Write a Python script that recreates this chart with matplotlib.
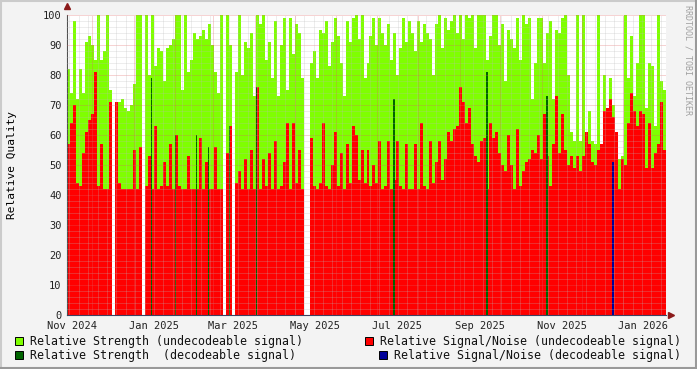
import numpy as np
import matplotlib.pyplot as plt
from matplotlib.patches import Rectangle

nan = np.nan

# one column per ~2.23 days, starting mid-Nov 2024
start = np.datetime64("2024-11-12T04:00")
step_h = 53.6

strength_undec = [
    82, 74, 98, 72, 82, 74, 91, 93, 90, 85, 100, 85, 88, 100, 75, nan, 68, 71, 72, 69,
    68, 70, 77, 100, 100, nan, 100, 80, 100, 83, 89, 88,
    78, 89, 90, 92, 100, 100, 75, 100, 81, 85, 94, 92, 93, 95, 92, 97, 90, 81, 74, 100,
    nan, 100, 90, nan, 81, 100, 80, 91, 89, 94, 73, 100, 97, 100,
    85, 91, 79, 98, 73, 90, 99, 75, 99, 87, 97, 94, 79, nan, nan, 84, 88, 79, 95, 94,
    98, 83, 91, 99, 93, 84, 73, 98, 91, 99, 100, 92, 100,
    79, 84, 93, 99, 90, 99, 94, 90, 97, 85, 94, 80, 89, 99, 91, 98, 94, 88, 98, 91,
    97, 94, 92, 80, 97, 100, 89, 99, 95, 98, 100, 94, 100,
    92, 100, 99, 100, 89, 100, 100, 100, 85, 93, 100, 100, 90, 97, 78, 95, 92, 89, 99, 85,
    100, 97, 99, 72, 84, 99, 99, 84, 94, 98, 72, 95, 94, 99,
    100, 80, 61, 58, 100, 58, 100, 60, 68, 58, 57, 100, 54, 80, 65, 79, 70, 61, 52, 53,
    100, 79, 93, 73, 84, 100, 100, 69, 84, 83, 63, 100, 78, 75,
]

snr_undec = [
    57, 64, 70, 44, 43, 54, 61, 65, 67, 81, 43, 57, 42, 42, 71, nan, 71, 44, 42, 42,
    42, 42, 55, 42, 56, nan, 43, 53, 42, 63, 42, 43,
    51, 43, 57, 42, 60, 43, 42, 42, 53, 42, 42, 42, 59, 42, 51, 42, 42, 56, 42, 42,
    nan, 54, 63, nan, 44, 48, 42, 52, 42, 55, 42, 76, 42, 52,
    43, 54, 42, 58, 42, 43, 51, 64, 42, 64, 44, 55, 42, nan, nan, 59, 43, 42, 44, 64,
    43, 42, 50, 61, 43, 54, 42, 57, 44, 63, 60, 45, 55,
    44, 55, 43, 50, 44, 58, 42, 43, 58, 42, 45, 58, 43, 42, 57, 42, 42, 57, 42, 64,
    43, 42, 58, 44, 51, 58, 45, 52, 61, 58, 62, 63, 76,
    71, 64, 69, 57, 53, 51, 58, 59, 42, 64, 59, 61, 54, 50, 48, 60, 50, 42, 62, 43,
    48, 51, 52, 55, 54, 60, 52, 67, 53, 43, 57, 73, 54, 67,
    55, 50, 53, 49, 53, 48, 53, 61, 57, 51, 50, 55, 57, 68, 69, 72, 66, 61, 42, 52,
    50, 64, 74, 68, 63, 68, 67, 49, 64, 49, 54, 57, 71, 55,
]

# sparse decodeable samples (column index, value)
strength_dec_idx = [28, 36, 43, 47, 54, 63, 109, 140, 160]
strength_dec = [79, 60, 60, 56, 63, 76, 72, 81, 73]
snr_dec_idx = [182]
snr_dec = [51]

y_ticks = list(range(0, 101, 10))
x_labels = ["Nov 2024", "Jan 2025", "Mar 2025", "May 2025",
            "Jul 2025", "Sep 2025", "Nov 2025", "Jan 2026"]
x_label_dates = ["2024-11-16", "2025-01-16", "2025-03-16", "2025-05-16",
                 "2025-07-16", "2025-09-16", "2025-11-16", "2026-01-16"]

n = len(strength_undec)
t = start + (np.arange(n) * step_h * 60).astype("timedelta64[m]")
w = step_h / 24.0

W, H = 697, 369
fig = plt.figure(figsize=(W / 100, H / 100), dpi=100, facecolor="#F3F3F3")
ax = fig.add_axes([67 / W, 54 / H, 599 / W, 300 / H])
ax.set_facecolor("white")

mono = "DejaVu Sans Mono"

ax.bar(t, strength_undec, width=w, align="edge", color="#7FFF00", linewidth=0, zorder=1)
ax.bar(t, snr_undec, width=w, align="edge", color="#FF0000", linewidth=0, zorder=2)
ax.bar(t[strength_dec_idx], strength_dec, width=w * 0.45, align="edge",
       color="#006400", linewidth=0, zorder=2.5)
ax.bar(t[snr_dec_idx], snr_dec, width=w * 0.6, align="edge",
       color="#000099", linewidth=0, zorder=2.6)

t0 = start
t1 = start + np.timedelta64(int(n * step_h * 60), "m")
ax.set_xlim(t0, t1)
ax.set_ylim(0, 100)

# grid (drawn over the data, like rrdtool)
dots = (0, (1, 1))
for v in range(2, 100, 2):
    if v % 10:
        ax.axhline(v, color="#BBBBBB", alpha=0.5, lw=0.72, ls=dots, zorder=3)
for v in range(10, 101, 10):
    ax.axhline(v, color="#E06060", alpha=0.55, lw=0.72, ls=dots, zorder=3)
months = np.arange(np.datetime64("2024-12"), np.datetime64("2026-02"), dtype="datetime64[M]")
weeks = np.arange(np.datetime64("2024-11-14"), t1, np.timedelta64(7, "D"))
for d in weeks:
    ax.axvline(d, color="#BBBBBB", alpha=0.5, lw=0.72, ls=dots, zorder=3)
for d in months:
    ax.axvline(d.astype("datetime64[D]"), color="#E06060", alpha=0.55, lw=0.72, ls=dots, zorder=3)

for s in ["top", "right"]:
    ax.spines[s].set_visible(False)
ax.spines["left"].set_color("#505050")
ax.spines["bottom"].set_color("#404060")
ax.spines["left"].set_linewidth(0.8)
ax.spines["bottom"].set_linewidth(0.8)

ax.set_yticks(y_ticks)
ax.set_yticklabels([str(v) for v in y_ticks], fontsize=7.5, family=mono)
ax.set_xticks(np.array(x_label_dates, dtype="datetime64[D]"))
ax.set_xticklabels(x_labels, fontsize=7.5, family=mono)
ax.tick_params(length=0, pad=4, colors="#222222")
ax.set_ylabel("Relative Quality", fontsize=8, family=mono)
ax.yaxis.set_label_coords(-50 / 599, 0.5)

# axis arrows
ax.plot([0], [1.03], marker="^", ms=4, color="#8B1A1A", transform=ax.transAxes, clip_on=False)
ax.plot([1.008], [0], marker=">", ms=4, color="#8B1A1A", transform=ax.transAxes, clip_on=False)

fig.text(688 / W, 1 - 5 / H, "RRDTOOL / TOBI OETIKER", rotation=-90, fontsize=6,
         family=mono, color="#A0A0A0", ha="center", va="top")

legend = [
    (15, 341, "#7FFF00", "Relative Strength (undecodeable signal)"),
    (365, 341, "#FF0000", "Relative Signal/Noise (undecodeable signal)"),
    (15, 355, "#006400", "Relative Strength  (decodeable signal)"),
    (379, 355, "#000099", "Relative Signal/Noise (decodeable signal)"),
]
for x, y, c, label in legend:
    fig.patches.append(Rectangle((x / W, 1 - (y + 4) / H), 8 / W, 8 / H, facecolor=c,
                                 edgecolor="black", linewidth=0.7, transform=fig.transFigure))
    fig.text((x + 15) / W, 1 - y / H, label, fontsize=8.4, family=mono,
             color="#111111", va="center", ha="left")

# rrdtool-like frame
fig.add_artist(plt.Line2D([0, 1], [1 - 1 / H, 1 - 1 / H], color="#CBCBCB", lw=1.5))
fig.add_artist(plt.Line2D([1 / W, 1 / W], [0, 1], color="#CBCBCB", lw=1.5))
fig.add_artist(plt.Line2D([0, 1], [1 / H, 1 / H], color="#999999", lw=1.5))
fig.add_artist(plt.Line2D([1 - 1 / W, 1 - 1 / W], [0, 1], color="#999999", lw=1.5))

fig.savefig("out.png", dpi=100, facecolor=fig.get_facecolor())
